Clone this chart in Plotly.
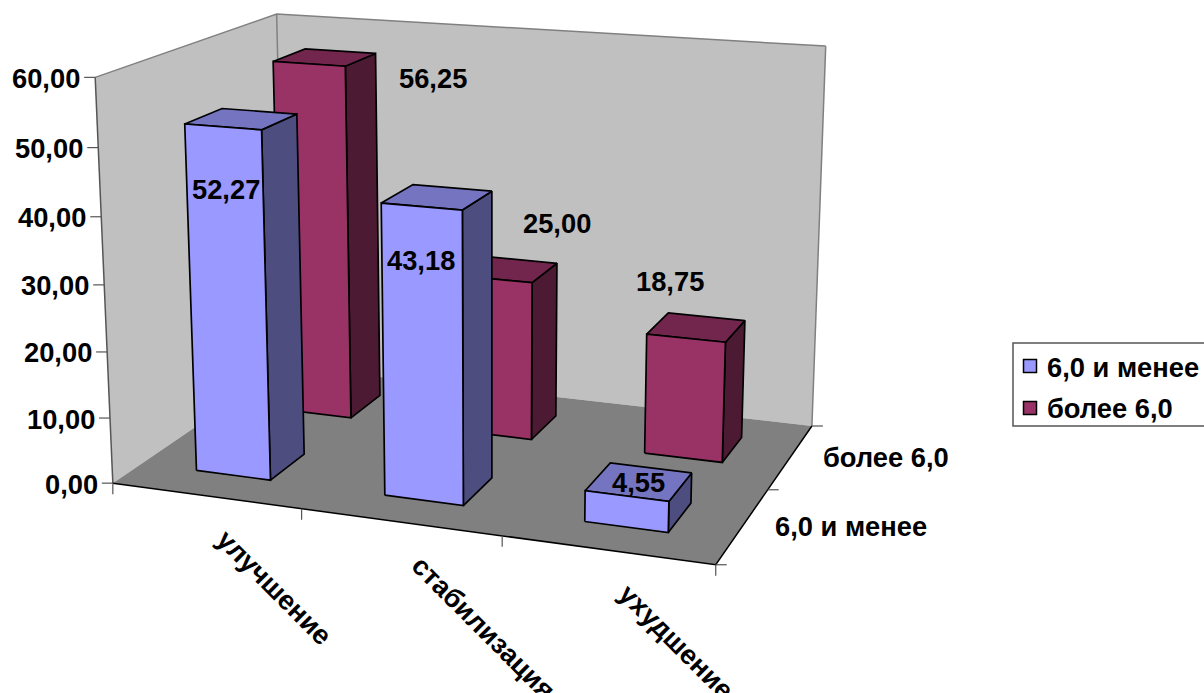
import numpy as np
import plotly.graph_objects as go

# Chart data
categories = ["улучшение", "стабилизация", "ухудшение"]
series_names = ["6,0 и менее", "более 6,0"]
values_low = [52.27, 43.18, 4.55]
values_high = [56.25, 25.00, 18.75]
value_ticks = [0, 10, 20, 30, 40, 50, 60]

# Bar styling: front, top and side shades of each series
SHADES = {
    0: ("#9999FF", "#7474C1", "#4D4D80"),
    1: ("#993366", "#73264D", "#4D1A33"),
}
BAR_WIDTH = 0.40
BAR_DEPTH = 0.40
FONT = "Liberation Sans"
TEXT_SIZE = 27.3
TEXT_DROP = 1.0

# Screen offsets of the data labels, in the order low series then high series
LABEL_OFFSETS = {
    (0, 0): (-15, 70), (0, 1): (-16, 62), (0, 2): (0, 0),
    (1, 0): (108, 20), (1, 1): (49.5, -47), (1, 2): (-26, -47),
}

# Camera calibration: box coordinates (category, series, value) -> screen position
CALIBRATION = [
    ((0, 0, 0), (113, 484)), ((3, 0, 0), (716, 565)), ((3, 2, 0), (811, 426)),
    ((0, 2, 0), (287, 365)), ((0, 0, 60), (96, 77)), ((0, 2, 60), (275, 14)),
    ((3, 2, 60), (826, 46)), ((1, 0, 0), (302, 509)), ((2, 0, 0), (502, 536)),
    ((3, 1, 0), (768, 489)), ((0, 0, 30), (105, 283)),
    ((0.3, 0.3, 0), (195, 471)), ((0.7, 0.3, 0), (270, 481)),
    ((1.3, 0.3, 0), (384, 494)), ((1.7, 0.3, 0), (464, 505)),
    ((2.3, 0.3, 0), (585, 522)), ((2.7, 0.3, 0), (668, 532)),
    ((0.7, 1.3, 0), (350, 419)), ((2.7, 1.3, 0), (722, 462)),
    ((2.7, 1.7, 0), (742, 438)), ((0.3, 0.3, 52.27), (185, 124)),
    ((0.7, 1.3, 56.25), (345, 67)), ((1.7, 1.7, 25.0), (557, 264)),
    ((2.7, 1.7, 18.75), (746, 320)), ((1.7, 0.7, 43.18), (492, 192)),
    ((2.7, 0.7, 4.55), (691, 473)),
]


def solve_camera(pairs):
    rows = []
    for (a, b, c), (u, v) in pairs:
        c = c / 20.0
        rows.append([a, b, c, 1, 0, 0, 0, 0, -u * a, -u * b, -u * c, -u])
        rows.append([0, 0, 0, 0, a, b, c, 1, -v * a, -v * b, -v * c, -v])
    return np.linalg.svd(np.array(rows, dtype=float))[2][-1].reshape(3, 4)


CAMERA = solve_camera(CALIBRATION)


def project(cat, ser, val):
    h = CAMERA @ np.array([cat, ser, val / 20.0, 1.0])
    return h[0] / h[2], h[1] / h[2]


fig = go.Figure()


def polygon(points, fill=None, line=None, width=1.7):
    xs, ys = zip(*[project(*p) for p in points])
    closed = fill is not None
    fig.add_trace(go.Scatter(
        x=list(xs) + ([xs[0]] if closed else []),
        y=list(ys) + ([ys[0]] if closed else []),
        mode="lines", fill="toself" if closed else "none",
        fillcolor=fill, hoverinfo="skip", showlegend=False,
        line=dict(color=line or "rgba(0,0,0,0)", width=width if line else 0),
    ))


def segment(p, dx=0, dy=0, color="#555555", width=1.2):
    x, y = project(*p)
    fig.add_trace(go.Scatter(x=[x, x + dx], y=[y, y + dy], mode="lines",
                             hoverinfo="skip", showlegend=False,
                             line=dict(color=color, width=width)))


n_cat = len(categories)
n_ser = len(series_names)
top = value_ticks[-1]

# Walls and floor
polygon([(0, 0, 0), (0, n_ser, 0), (0, n_ser, top), (0, 0, top)], "#C0C0C0")
polygon([(0, n_ser, 0), (n_cat, n_ser, 0), (n_cat, n_ser, top), (0, n_ser, top)], "#C0C0C0")
polygon([(0, 0, 0), (n_cat, 0, 0), (n_cat, n_ser, 0), (0, n_ser, 0)], "#808080")
polygon([(0, 0, top), (0, n_ser, top), (n_cat, n_ser, top)], None, "#808080", 1.5)
polygon([(0, n_ser, top), (0, n_ser, 0)], None, "#808080", 1.5)
polygon([(n_cat, n_ser, top), (n_cat, n_ser, 0)], None, "#808080", 1.5)
polygon([(0, 0, top), (0, 0, 0)], None, "#555555", 1.5)
polygon([(0, 0, 0), (n_cat, 0, 0), (n_cat, n_ser, 0)], None, "#000000", 1.5)

# Tick marks
for v in value_ticks:
    segment((0, 0, v), dx=-11)
for c in range(n_cat + 1):
    segment((c, 0, 0), dy=11)
for s in range(n_ser + 1):
    segment((n_cat, s, 0), dx=11)


def bar(cat, ser, val):
    front, topc, side = SHADES[ser]
    x0, x1 = cat + 0.5 - BAR_WIDTH / 2, cat + 0.5 + BAR_WIDTH / 2
    z0, z1 = ser + 0.5 - BAR_DEPTH / 2, ser + 0.5 + BAR_DEPTH / 2
    polygon([(x1, z0, 0), (x1, z1, 0), (x1, z1, val), (x1, z0, val)], side, "#000000")
    polygon([(x0, z0, val), (x1, z0, val), (x1, z1, val), (x0, z1, val)], topc, "#000000")
    polygon([(x0, z0, 0), (x1, z0, 0), (x1, z0, val), (x0, z0, val)], front, "#000000")


# The far row goes first so the near row covers it
for ser, vals in [(1, values_high), (0, values_low)]:
    for cat, val in enumerate(vals):
        bar(cat, ser, val)


def label(x, y, text, xanchor="center", yanchor="middle", angle=0):
    fig.add_annotation(x=x, y=y + TEXT_DROP, text=text, showarrow=False, xanchor=xanchor,
                       yanchor=yanchor, textangle=angle,
                       font=dict(family=FONT, size=TEXT_SIZE, color="#000000", weight=700))


def comma(v):
    return f"{v:.2f}".replace(".", ",")


# Value axis labels
for v in value_ticks:
    x, y = project(0, 0, v)
    label(x - 13, y, comma(v), xanchor="right")

# Category labels, turned 45 degrees below the front edge
for c, name in enumerate(categories):
    x, y = project(c + 0.5, 0, 0)
    label(x + 2.5, y + 24, name, xanchor="left", yanchor="top", angle=45)

# Series labels on the depth axis
for s, name in enumerate(series_names):
    x, y = project(n_cat, s + 0.5, 0)
    label(x + 30.5, y, name, xanchor="left")

# Data labels
for ser, vals in enumerate([values_low, values_high]):
    for cat, val in enumerate(vals):
        x, y = project(cat + 0.5, ser + 0.5, val)
        dx, dy = LABEL_OFFSETS[(ser, cat)]
        label(x + dx, y + dy, comma(val))

# Legend box with swatches
fig.add_shape(type="rect", x0=1013, x1=1206, y0=343, y1=426, layer="below",
              line=dict(color="#555555", width=1.5), fillcolor="#FFFFFF")
for s, name in enumerate(series_names):
    fig.add_trace(go.Scatter(x=[1030], y=[366 + 42 * s], mode="markers", hoverinfo="skip",
                             name=name, showlegend=False,
                             marker=dict(symbol="square", size=13, color=SHADES[s][0],
                                         line=dict(color="#000000", width=1.5))))
    label(1045, 366 + 41 * s, name, xanchor="left")

fig.update_layout(
    width=1204, height=693, margin=dict(l=0, r=0, t=0, b=0),
    paper_bgcolor="#FFFFFF", plot_bgcolor="#FFFFFF", showlegend=False,
    xaxis=dict(range=[0, 1204], visible=False, fixedrange=True),
    yaxis=dict(range=[693, 0], visible=False, fixedrange=True),
)
fig.write_html("out.html", config={"displayModeBar": False})
